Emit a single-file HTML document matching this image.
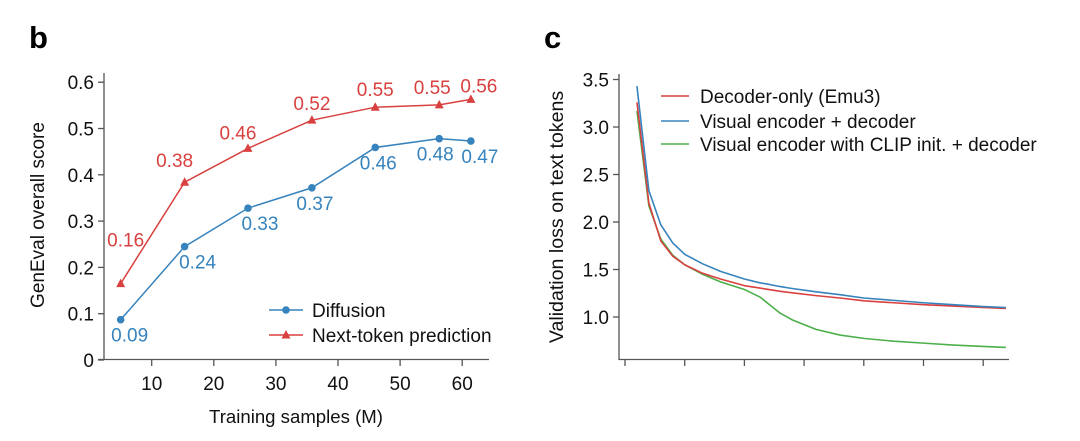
<!DOCTYPE html>
<html><head><meta charset="utf-8"><style>
html,body{margin:0;padding:0;background:#fff;}
svg{display:block;font-family:"Liberation Sans",Arial,sans-serif;}
</style></head><body>
<svg id="fig" width="1080" height="441" viewBox="0 0 1080 441">
<text x="29" y="48" font-size="31" font-weight="bold">b</text>
<text x="544" y="48" font-size="31" font-weight="bold">c</text>
<g id="left"></g>
<g id="right"></g>
</svg>
<script>
// ---- Panel b data ----
const samplesM = [5, 15.3, 25.5, 35.8, 46, 56.3, 61.4];
const diffusionScores = [0.087, 0.245, 0.328, 0.372, 0.459, 0.478, 0.473];
const ntpScores = [0.165, 0.384, 0.457, 0.518, 0.546, 0.551, 0.563];
const diffusionLabels = ["0.09","0.24","0.33","0.37","0.46","0.48","0.47"];
const ntpLabels = ["0.16","0.38","0.46","0.52","0.55","0.55","0.56"];
const leftXTicks = [10,20,30,40,50,60];
const leftYTicks = [0,0.1,0.2,0.3,0.4,0.5,0.6];
const leftYTickLabels = ["0","0.1","0.2","0.3","0.4","0.5","0.6"];
// ---- Panel c data ----
const lossSteps = [0.2,0.4,0.6,0.8,1.0,1.3,1.6,2.0,2.26,2.4,2.6,2.8,3.2,3.6,4.0,4.5,5.0,5.5,6.0,6.38];
const lossDecoderOnly = [3.26,2.2,1.8,1.64,1.55,1.46,1.4,1.33,1.305,1.29,1.27,1.255,1.225,1.20,1.17,1.15,1.13,1.115,1.10,1.09];
const lossVisualEnc = [3.43,2.33,1.97,1.78,1.66,1.56,1.48,1.40,1.36,1.345,1.32,1.30,1.265,1.235,1.20,1.175,1.15,1.13,1.11,1.10];
const lossClipEnc = [3.17,2.17,1.82,1.65,1.55,1.45,1.37,1.29,1.21,1.14,1.04,0.97,0.87,0.81,0.775,0.745,0.725,0.705,0.69,0.68];
const rightXTicks = [0,1,2,3,4,5,6];
const rightYTicks = [1.0,1.5,2.0,2.5,3.0,3.5];
const rightYTickLabels = ["1.0","1.5","2.0","2.5","3.0","3.5"];

const NS="http://www.w3.org/2000/svg";
function mk(parent,tag,attrs,text){const e=document.createElementNS(NS,tag);for(const k in attrs)e.setAttribute(k,attrs[k]);if(text!==undefined)e.textContent=text;parent.appendChild(e);return e;}
const RED="#d8413f",BLUE="#3683bd",GREEN="#4daf4a",AX="#555";
const FS=19;

// Panel b
const L=document.getElementById('left');
const lx=v=>89.6+v*6.21, ly=v=>360-v*463;
let e;
e=mk(L,'line',{x1:104,y1:73,x2:104,y2:360,stroke:AX,'stroke-width':1.3});


e=mk(L,'line',{x1:98,y1:359.5,x2:489,y2:359.5,stroke:AX,'stroke-width':1.3});


leftYTicks.forEach((t,i)=>{
  mk(L,'line',{x1:98,y1:ly(t),x2:104,y2:ly(t),stroke:AX,'stroke-width':1.3});
  e=mk(L,'text',{x:94,y:ly(t)+7,'font-size':FS,'text-anchor':'end',fill:'#111'},leftYTickLabels[i]);
  
  
});
leftXTicks.forEach(t=>{
  mk(L,'line',{x1:lx(t),y1:360,x2:lx(t),y2:366,stroke:AX,'stroke-width':1.3});
  e=mk(L,'text',{x:lx(t),y:390,'font-size':FS,'text-anchor':'middle',fill:'#111'},String(t));
  
  
});
e=mk(L,'text',{x:296,y:423,'font-size':18.6,'text-anchor':'middle',fill:'#111'},'Training samples (M)');


e=mk(L,'text',{x:0,y:0,'font-size':19,'text-anchor':'middle',fill:'#111',transform:'translate(44,215) rotate(-90)'},'GenEval overall score');



e=mk(L,'polyline',{points:samplesM.map((x,i)=>lx(x)+','+ly(diffusionScores[i])).join(' '),fill:'none',stroke:BLUE,'stroke-width':1.5});


e=mk(L,'polyline',{points:samplesM.map((x,i)=>lx(x)+','+ly(ntpScores[i])).join(' '),fill:'none',stroke:RED,'stroke-width':1.5});


const ntpDx=[5,-10,-10,0,0,-7,8], ntpDy=[-37,-15,-9,-10,-11,-11,-7];
const difDx=[9,13,12,3,3,-4,9];
samplesM.forEach((x,i)=>{
  const px=lx(x),pyB=ly(diffusionScores[i]),pyR=ly(ntpScores[i]);
  e=mk(L,'circle',{cx:px,cy:pyB,r:3.8,fill:BLUE});
  
  
  e=mk(L,'polygon',{points:`${px},${pyR-5} ${px-4.5},${pyR+3.5} ${px+4.5},${pyR+3.5}`,fill:RED});
  
  
  e=mk(L,'text',{x:px+difDx[i],y:pyB+22,'font-size':FS,'text-anchor':'middle',fill:BLUE},diffusionLabels[i]);
  
  
  e=mk(L,'text',{x:px+ntpDx[i],y:pyR+ntpDy[i],'font-size':FS,'text-anchor':'middle',fill:RED},ntpLabels[i]);
  
  
});
// legend b
mk(L,'line',{x1:269,y1:310,x2:303,y2:310,stroke:BLUE,'stroke-width':1.5});
mk(L,'circle',{cx:286,cy:310,r:3.8,fill:BLUE});
e=mk(L,'text',{x:312,y:317,'font-size':FS,fill:'#111'},'Diffusion');


mk(L,'line',{x1:269,y1:335,x2:303,y2:335,stroke:RED,'stroke-width':1.5});
mk(L,'polygon',{points:'286,330 281.5,338.5 290.5,338.5',fill:RED});
e=mk(L,'text',{x:312,y:342,'font-size':FS,fill:'#111'},'Next-token prediction');



// Panel c
const R=document.getElementById('right');
const rx=v=>625+v*59.7, ry=v=>317-(v-1)*95;
e=mk(R,'line',{x1:619,y1:74,x2:619,y2:360,stroke:AX,'stroke-width':1.3});


e=mk(R,'line',{x1:619,y1:359.5,x2:1009,y2:359.5,stroke:AX,'stroke-width':1.3});


rightYTicks.forEach((t,i)=>{
  mk(R,'line',{x1:613,y1:ry(t),x2:619,y2:ry(t),stroke:AX,'stroke-width':1.3});
  e=mk(R,'text',{x:609,y:ry(t)+7,'font-size':FS,'text-anchor':'end',fill:'#111'},rightYTickLabels[i]);
  
  
});
rightXTicks.forEach(t=>{mk(R,'line',{x1:rx(t),y1:360,x2:rx(t),y2:366,stroke:AX,'stroke-width':1.3});});
e=mk(R,'text',{x:0,y:0,'font-size':19.6,'text-anchor':'middle',fill:'#111',transform:'translate(563,217) rotate(-90)'},'Validation loss on text tokens');


[[lossClipEnc,GREEN,'clip-encoder-line'],[lossDecoderOnly,RED,'decoder-only-line'],[lossVisualEnc,BLUE,'visual-encoder-line']].forEach(([s,c,n])=>{
  e=mk(R,'polyline',{points:lossSteps.map((x,i)=>rx(x)+','+ry(s[i])).join(' '),fill:'none',stroke:c,'stroke-width':1.6,'stroke-linejoin':'round'});
  
  
});
[["Decoder-only (Emu3)",RED,96],["Visual encoder + decoder",BLUE,121],["Visual encoder with CLIP init. + decoder",GREEN,144]].forEach(([t,c,y])=>{
  mk(R,'line',{x1:661,y1:y,x2:689,y2:y,stroke:c,'stroke-width':1.6});
  e=mk(R,'text',{x:700,y:y+7,'font-size':FS,fill:'#111'},t);
  
  
});
</script>
</body></html>
